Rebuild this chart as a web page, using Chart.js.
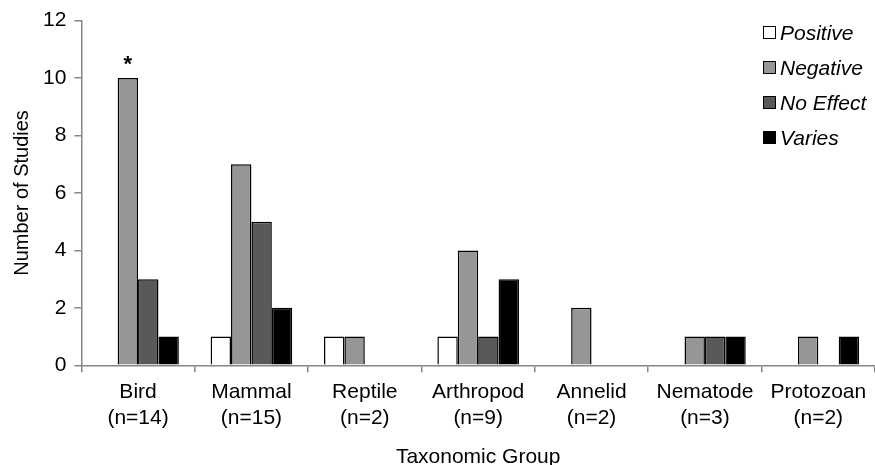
<!DOCTYPE html>
<html>
<head>
<meta charset="utf-8">
<script src="https://cdn.jsdelivr.net/npm/chart.js@4"></script>
<style>
  body { margin: 0; background: #fff; }
  #wrap { position: relative; width: 875px; height: 465px; }
  #legend { position: absolute; left: 763px; top: 15px; font-family: "Liberation Sans", Arial, sans-serif; font-size: 21px; font-style: italic; color: #000; }
  #legend div { height: 35px; display: flex; align-items: center; }
  #legend span.box { display: inline-block; width: 11px; height: 11px; border: 1.5px solid #000; margin-right: 4px; }
</style>
</head>
<body>
<div id="wrap">
  <canvas id="chart" width="875" height="465"></canvas>
  <div id="legend"></div>
</div>
<script>
const categories = [["Bird", "(n=14)"], ["Mammal", "(n=15)"], ["Reptile", "(n=2)"], ["Arthropod", "(n=9)"], ["Annelid", "(n=2)"], ["Nematode", "(n=3)"], ["Protozoan", "(n=2)"]];
const seriesNames = ["Positive", "Negative", "No Effect", "Varies"];
const positive = [0, 1, 1, 1, 0, 0, 0];
const negative = [10, 7, 1, 4, 2, 1, 1];
const noEffect = [3, 5, 0, 1, 0, 1, 0];
const varies = [1, 2, 0, 3, 0, 1, 1];
const colors = ["#ffffff", "#969696", "#595959", "#000000"];
// [series index, category index] of bars marked with an asterisk
const starred = [[1, 0]];

const font = "'Liberation Sans', Arial, sans-serif";
const values = [positive, negative, noEffect, varies];

const starPlugin = {
    id: "stars",
    afterDatasetsDraw(chart) {
        const ctx = chart.ctx;
        ctx.save();
        ctx.fillStyle = "#000";
        ctx.font = "bold 22px " + font;
        ctx.textAlign = "center";
        ctx.textBaseline = "bottom";
        starred.forEach(([s, c]) => {
            const bar = chart.getDatasetMeta(s).data[c];
            ctx.fillText("*", bar.x, bar.y - 2);
        });
        ctx.restore();
    },
};

new Chart(document.getElementById("chart"), {
    type: "bar",
    data: {
        labels: categories,
        datasets: seriesNames.map((name, i) => ({
            label: name,
            data: values[i],
            backgroundColor: colors[i],
            borderColor: "#000",
            borderWidth: 1.5,
            barPercentage: 1.0,
            categoryPercentage: 0.72,
        })),
    },
    options: {
        responsive: false,
        animation: false,
        layout: { padding: { top: 9, right: 0, left: 6, bottom: -5 } },
        plugins: { legend: { display: false }, tooltip: { enabled: false } },
        scales: {
            x: {
                grid: { display: true, drawOnChartArea: false, drawTicks: true, tickLength: 7, color: "#868686", lineWidth: 1.5 },
                border: { color: "#868686", width: 1.5 },
                ticks: { color: "#000", font: { family: font, size: 21, lineHeight: 1.25 }, padding: 7, maxRotation: 0 },
                title: { display: true, text: "Taxonomic Group", color: "#000", font: { family: font, size: 21 }, padding: { top: 6, bottom: 0 } },
            },
            y: {
                min: 0,
                max: 12,
                ticks: { stepSize: 2, color: "#000", font: { family: font, size: 21 }, padding: 8 },
                grid: { display: true, drawOnChartArea: false, drawTicks: true, tickLength: 7, color: "#868686", lineWidth: 1.5 },
                border: { color: "#868686", width: 1.5 },
                title: { display: true, text: "Number of Studies", color: "#000", font: { family: font, size: 20 }, padding: { bottom: 1 } },
            },
        },
    },
    plugins: [starPlugin],
});

const legend = document.getElementById("legend");
seriesNames.forEach((name, i) => {
    const row = document.createElement("div");
    row.innerHTML = `<span class="box" style="background:${colors[i]}"></span>${name}`;
    legend.appendChild(row);
});
</script>
</body>
</html>
